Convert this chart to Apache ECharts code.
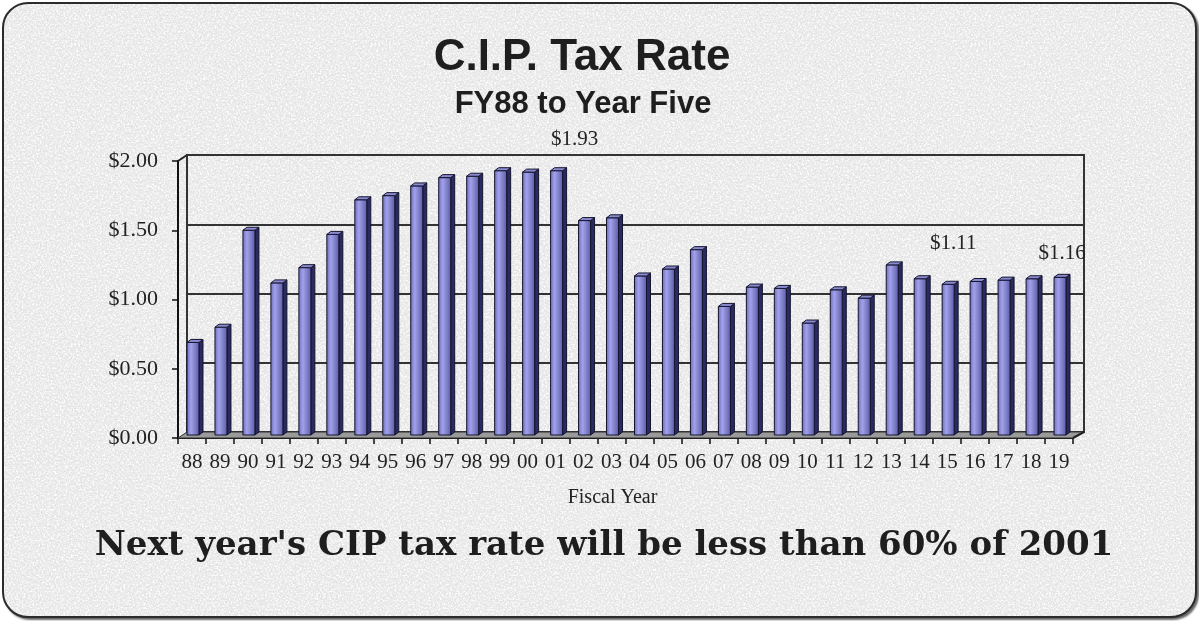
<!DOCTYPE html>
<html>
<head>
<meta charset="utf-8">
<script src="https://cdn.jsdelivr.net/npm/echarts@6/dist/echarts.min.js"></script>
<style>
  html, body { margin: 0; padding: 0; background: #ffffff; }
  #frame {
    position: absolute; left: 2px; top: 2px; width: 1191px; height: 612px;
    border: 2px solid #2b2b2b; border-radius: 26px;
    box-shadow: 2px 2px 2px #666;
    background-color: #e7e7e7;
    background-image:
      url("data:image/svg+xml;utf8,<svg xmlns='http://www.w3.org/2000/svg' width='300' height='300'><filter id='w'><feTurbulence type='fractalNoise' baseFrequency='0.55' numOctaves='3' seed='7'/><feColorMatrix values='0 0 0 0 1  0 0 0 0 1  0 0 0 0 1  3 0 0 0 -1.3'/></filter><rect width='300' height='300' filter='url(%23w)'/></svg>"),
      url("data:image/svg+xml;utf8,<svg xmlns='http://www.w3.org/2000/svg' width='300' height='300'><filter id='n'><feTurbulence type='fractalNoise' baseFrequency='0.8' numOctaves='2' seed='3'/><feColorMatrix values='0 0 0 0 0.62  0 0 0 0 0.62  0 0 0 0 0.62  -3 0 0 0 1.15'/></filter><rect width='300' height='300' filter='url(%23n)'/></svg>");
  }
  #chart { position: absolute; left: 0; top: 0; width: 1199px; height: 621px; }
</style>
</head>
<body>
<div id="frame"></div>
<div id="chart"></div>
<script>
// ---- data ----
const categories = ['88','89','90','91','92','93','94','95','96','97','98','99','00','01','02','03',
                    '04','05','06','07','08','09','10','11','12','13','14','15','16','17','18','19'];
const taxRate = [0.69, 0.80, 1.50, 1.12, 1.23, 1.47, 1.72, 1.75, 1.82, 1.88, 1.89, 1.93, 1.92, 1.93, 1.57, 1.59,
                 1.17, 1.22, 1.36, 0.95, 1.09, 1.08, 0.83, 1.07, 1.01, 1.25, 1.15, 1.11, 1.13, 1.14, 1.15, 1.16];
const labeledYears = ['01', '15', '19'];
const yTicks = [0, 0.5, 1.0, 1.5, 2.0];

// ---- label placement (style only) ----
const labelOffsets = { '01': [19, -28], '15': [6, -38], '19': [3, -21] };

const chart = echarts.init(document.getElementById('chart'), null, { renderer: 'canvas' });

const serif = "'Liberation Serif', 'Times New Roman', serif";
const sans = "'Liberation Sans', Arial, sans-serif";
const slab = "'DejaVu Serif', Cambria, serif";

const DX = 9, DY = -6;  // depth offset of the back wall

function renderBar(params, api) {
  const i = api.value(0), v = api.value(1);
  const p = api.coord([i, v]);
  const b = api.coord([i, 0]);
  const w = 12, d = 4, dz = 3;
  const L = p[0] - 5, R = L + w;
  const top = p[1], base = b[1] - dz;
  const children = [
    { type: 'polygon', shape: { points: [[R, top], [R + d, top - dz], [R + d, base - dz], [R, base]] },
      style: { fill: '#2a2a5e', stroke: '#141430', lineWidth: 1 } },
    { type: 'rect', shape: { x: L, y: top, width: w, height: base - top },
      style: { fill: new echarts.graphic.LinearGradient(0, 0, 1, 0, [
        { offset: 0, color: '#6a6abc' }, { offset: 0.35, color: '#a2a2ea' }, { offset: 1, color: '#5a5aa8' }]),
        stroke: '#15152e', lineWidth: 1 } },
    { type: 'polygon', shape: { points: [[L, top], [R, top], [R + d, top - dz], [L + d, top - dz]] },
      style: { fill: '#8a8ad0', stroke: '#15152e', lineWidth: 1 } }
  ];
  const cat = categories[i];
  if (labeledYears.indexOf(cat) >= 0) {
    const off = labelOffsets[cat] || [0, -25];
    children.push({ type: 'text', style: {
      text: '$' + v.toFixed(2), x: p[0] + off[0], y: top - dz + off[1],
      align: 'center', verticalAlign: 'middle', fill: '#222', font: '21px ' + serif } });
  }
  return { type: 'group', children };
}

function renderFloor(params, api) {
  const cs = params.coordSys;
  const x0 = cs.x, x1 = cs.x + cs.width, y0 = cs.y + cs.height, yt = cs.y;
  return { type: 'group', children: [
    { type: 'polygon', shape: { points: [[x0, y0], [x1, y0], [x1 + DX + 2, y0 + DY], [x0 + DX, y0 + DY]] },
      style: { fill: '#9a9a9a', stroke: '#333', lineWidth: 1 } },
    { type: 'line', shape: { x1: x0, y1: yt, x2: x0 + DX, y2: yt + DY }, style: { stroke: '#222', lineWidth: 2 } },
    { type: 'line', shape: { x1: x0 + DX, y1: yt + DY, x2: x0 + DX, y2: y0 + DY }, style: { stroke: '#333', lineWidth: 2 } },
    { type: 'line', shape: { x1: x1, y1: y0, x2: x1 + DX + 2, y2: y0 + DY }, style: { stroke: '#222', lineWidth: 2 } }
  ]};
}

const option = {
  backgroundColor: 'transparent',
  animation: false,
  title: [
    { text: 'C.I.P. Tax Rate', left: 577, top: 31, textAlign: 'center',
      textStyle: { fontFamily: sans, fontWeight: 'bold', fontSize: 44, color: '#1e1e1e' } },
    { text: 'FY88 to Year Five', left: 578, top: 84, textAlign: 'center',
      textStyle: { fontFamily: sans, fontWeight: 'bold', fontSize: 31, color: '#1e1e1e' } },
    { text: "Next year's CIP tax rate will be less than 60% of 2001", left: 599, top: 524, textAlign: 'center',
      textStyle: { fontFamily: slab, fontWeight: 'bold', fontSize: 34, color: '#1e1e1e' } }
  ],
  grid: [
    { left: 178, right: 126, top: 161, bottom: 183 },
    { left: 187, right: 115, top: 155, bottom: 189, show: true, borderColor: '#333', borderWidth: 2 }
  ],
  xAxis: [
    { type: 'category', data: categories, gridIndex: 0,
      axisLine: { lineStyle: { color: '#111', width: 2 } },
      axisTick: { show: true, length: 6, lineStyle: { color: '#111', width: 1.5 } },
      axisLabel: { fontFamily: serif, fontSize: 21, color: '#222', margin: 14, interval: 0 },
      name: 'Fiscal Year', nameLocation: 'middle', nameGap: 50,
      nameTextStyle: { fontFamily: serif, fontSize: 20, color: '#222', padding: [0, 26, 0, 0] } },
    { type: 'category', data: categories, gridIndex: 1, show: false }
  ],
  yAxis: [
    { type: 'value', gridIndex: 0, min: 0, max: 2, interval: 0.5,
      axisLine: { show: true, lineStyle: { color: '#111', width: 2 } },
      axisTick: { show: true, length: 6, lineStyle: { color: '#111', width: 1.5 } },
      splitLine: { show: false },
      axisLabel: { fontFamily: serif, fontSize: 22, color: '#222', margin: 20,
        formatter: v => '$' + v.toFixed(2) } },
    { type: 'value', gridIndex: 1, min: 0, max: 2, interval: 0.5,
      axisLine: { show: false }, axisTick: { show: false }, axisLabel: { show: false },
      splitLine: { show: true, lineStyle: { color: '#333', width: 2 } } }
  ],
  series: [
    { type: 'custom', xAxisIndex: 0, yAxisIndex: 0, renderItem: renderFloor, data: [[0, 0]], silent: true, z: 1 },
    { type: 'custom', xAxisIndex: 0, yAxisIndex: 0, renderItem: renderBar, z: 3,
      data: taxRate.map((v, i) => [i, v]) }
  ]
};

chart.setOption(option);
</script>
</body>
</html>
